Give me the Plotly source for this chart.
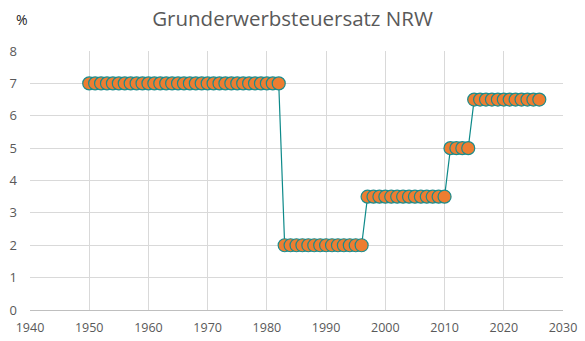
import plotly.graph_objects as go

years_7 = list(range(1950, 1983))
years_2 = list(range(1983, 1997))
years_35 = list(range(1997, 2011))
years_5 = list(range(2011, 2015))
years_65 = list(range(2015, 2027))

years = years_7 + years_2 + years_35 + years_5 + years_65
rates = [7.0] * len(years_7) + [2.0] * len(years_2) + [3.5] * len(years_35) + [5.0] * len(years_5) + [6.5] * len(years_65)

font_family = "Open Sans, Noto Sans, sans-serif"
grey = "#595959"
grid = "#D9D9D9"

fig = go.Figure()
fig.add_trace(go.Scatter(
    x=years, y=rates, mode="lines+markers",
    line=dict(color="#0E8A8A", width=1.2),
    marker=dict(size=13, color="#ED7D31", line=dict(color="#1A8C8C", width=1.2)),
    showlegend=False,
))

fig.update_layout(
    width=585, height=341,
    margin=dict(l=30, r=22, t=51, b=31, autoexpand=False),
    paper_bgcolor="white", plot_bgcolor="white",
    title=dict(text="Grunderwerbsteuersatz NRW", x=0.5, xanchor="center",
               y=0.945, yanchor="middle",
               font=dict(family=font_family, size=20.5, color=grey)),
    font=dict(family=font_family, color=grey, size=12),
    annotations=[dict(text="%", xref="paper", yref="paper", x=-0.015, y=1.12,
                      xanchor="center", yanchor="middle", showarrow=False,
                      font=dict(family=font_family, size=14, color="#222222"))],
)
fig.update_xaxes(range=[1940, 2030], dtick=10, tick0=1940, showgrid=True, gridcolor=grid,
                 gridwidth=1, zeroline=False, showline=False, ticks="",
                 ticklabelstandoff=8, automargin=False,
                 tickfont=dict(size=12.5, color=grey))
fig.update_yaxes(range=[0, 8], dtick=1, showgrid=True, gridcolor=grid, gridwidth=1,
                 zeroline=True, zerolinecolor="#BFBFBF", zerolinewidth=1, showline=False,
                 ticks="", ticklen=0, ticklabelstandoff=12, automargin=False,
                 tickfont=dict(size=13, color=grey))

fig.write_html("out.html")
